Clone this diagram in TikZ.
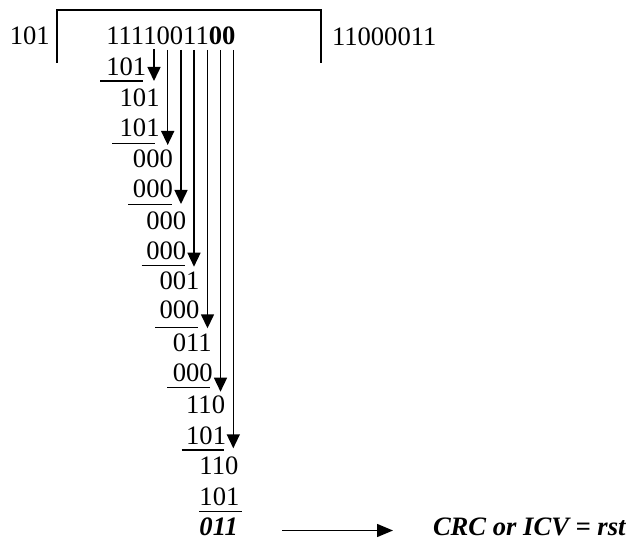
\documentclass[tikz,border=0pt]{standalone}
\usepackage{fontspec}
\setmainfont{Liberation Serif}
\usetikzlibrary{arrows.meta}
\begin{document}
\begin{tikzpicture}[x=1pt,y=-1pt,
  num/.style={anchor=base west,inner sep=0pt,outer sep=0pt,font=\fontsize{26.6}{30}\selectfont},
  rule/.style={line width=1.5pt},
  bracket/.style={line width=1.8pt},
  drop/.style={line width=1.5pt,-{Triangle[length=14pt,width=13pt]}},
  result/.style={line width=1.5pt,-{Triangle[length=16pt,width=13pt]}}]
\useasboundingbox (0,0) rectangle (630,540);
% divisor, dividend, quotient
\node[num] (div) at (9.75,45) {101};
\node[num] (dvd) at (106.35,45) {11110011\textbf{00}};
\node[num] (quo) at (332,46) {11000011};
\draw[bracket] (57,63) -- (57,10) -- (321,10) -- (321,63);
% rows of the division
\node[num] (s1) at (106.35,76) {101};
\node[num] (r1) at (119.65,106.7) {101};
\node[num] (s2) at (119.65,136.7) {101};
\node[num] (r2) at (132.95,167.3) {000};
\node[num] (s3) at (132.95,198) {000};
\node[num] (r3) at (146.25,230) {000};
\node[num] (s4) at (146.25,260) {000};
\node[num] (r4) at (159.55,290) {001};
\node[num] (s5) at (159.55,319) {000};
\node[num] (r5) at (172.85,351.7) {011};
\node[num] (s6) at (172.85,381.7) {000};
\node[num] (r6) at (186.15,413.3) {110};
\node[num] (s7) at (186.15,444) {101};
\node[num] (r7) at (199.45,475) {110};
\node[num] (s8) at (199.45,505.7) {101};
\node[num] (fin) at (199.45,535) {\textbf{\textit{011}}};
\node[num] (crc) at (433,535) {\textbf{\textit{CRC or ICV = rst}}};
% underlines
\draw[rule] (100,81) -- (143,81);
\draw[rule] (112.3,143.3) -- (155,143.3);
\draw[rule] (128.3,204.3) -- (171.7,204.3);
\draw[rule] (141.7,265.3) -- (185,265.3);
\draw[rule] (155,327.7) -- (198.3,327.7);
\draw[rule] (167.3,387.7) -- (210,387.7);
\draw[rule] (181.7,450) -- (224,450);
\draw[rule] (199.3,511.7) -- (241.7,511.7);
% bring-down arrows
\coordinate (t1) at (154,49.5);   \coordinate (b1) at (154,81);
\coordinate (t2) at (167.7,50);   \coordinate (b2) at (167.7,145);
\coordinate (t3) at (181,50);     \coordinate (b3) at (181,204);
\coordinate (t4) at (194,50);     \coordinate (b4) at (194,266.7);
\coordinate (t5) at (207.5,50);   \coordinate (b5) at (207.5,328.3);
\coordinate (t6) at (220.5,50);   \coordinate (b6) at (220.5,391.7);
\coordinate (t7) at (233.3,50);   \coordinate (b7) at (233.3,448.3);
\foreach \i in {1,...,7} {\draw[drop] (t\i) -- (b\i);}
% result arrow
\coordinate (ra) at (282,530.5);
\coordinate (rb) at (393,530.5);
\draw[result] (ra) -- (rb);
\end{tikzpicture}
\end{document}
